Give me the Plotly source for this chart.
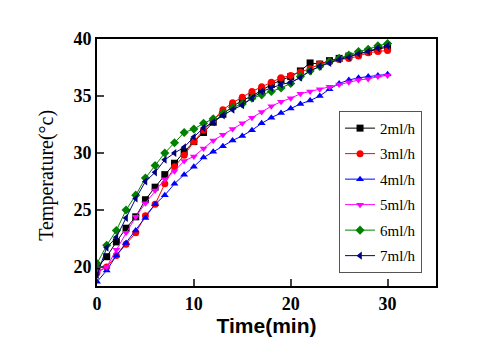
import plotly.graph_objects as go

time_min = list(range(0, 31))

t_2ml = [19.9, 20.9, 22.2, 23.4, 24.4, 25.9, 27.0, 28.1, 29.1, 30.1, 31.0, 31.8, 32.7, 33.4, 34.1, 34.6,
         35.0, 35.5, 36.0, 36.4, 36.7, 37.2, 37.9, 37.8, 38.1, 38.3, 38.5, 38.7, 38.9, 39.1, 39.3]
t_3ml = [19.5, 20.0, 21.0, 22.0, 23.0, 24.5, 25.5, 27.3, 28.8, 29.8, 31.0, 32.0, 32.9, 33.8, 34.4, 34.9,
         35.4, 35.8, 36.2, 36.6, 36.8, 37.1, 37.4, 37.8, 38.0, 38.2, 38.3, 38.5, 38.8, 38.9, 39.0]
t_4ml = [18.7, 19.7, 21.0, 22.1, 23.2, 24.3, 25.5, 26.3, 27.3, 28.1, 28.8, 29.6, 30.1, 30.6, 31.1, 31.5,
         32.0, 32.6, 33.1, 33.5, 33.9, 34.3, 34.6, 35.0, 35.6, 36.1, 36.4, 36.6, 36.7, 36.8, 36.9]
t_5ml = [19.6, 20.0, 21.5, 23.0, 24.4, 25.6, 26.7, 27.7, 28.4, 29.3, 29.7, 30.4, 31.1, 31.6, 32.1, 32.6,
         33.1, 33.6, 34.1, 34.5, 34.8, 35.2, 35.4, 35.6, 35.8, 36.0, 36.2, 36.4, 36.5, 36.7, 36.8]
t_6ml = [20.3, 21.9, 23.2, 25.0, 26.3, 27.8, 28.9, 30.0, 30.9, 31.8, 32.1, 32.6, 33.0, 33.5, 34.0, 34.3,
         34.8, 35.1, 35.4, 35.7, 36.1, 36.7, 37.2, 37.6, 38.0, 38.3, 38.6, 38.9, 39.1, 39.4, 39.6]
t_7ml = [19.3, 21.7, 22.6, 24.3, 26.0, 27.5, 28.3, 29.4, 30.0, 30.5, 31.4, 32.2, 32.7, 33.3, 33.8, 34.2,
         34.8, 35.4, 35.7, 36.0, 36.2, 36.6, 37.2, 37.6, 37.9, 38.2, 38.4, 38.7, 38.9, 39.2, 39.4]

series_names = ["2ml/h", "3ml/h", "4ml/h", "5ml/h", "6ml/h", "7ml/h"]
series_values = [t_2ml, t_3ml, t_4ml, t_5ml, t_6ml, t_7ml]
colors = ["#000000", "#FF0000", "#0000FF", "#FF00FF", "#008000", "#000080"]
symbols = ["square", "circle", "triangle-up", "triangle-down", "diamond", "triangle-left"]

x_ticks = [0, 10, 20, 30]
y_ticks = [20, 25, 30, 35, 40]

fig = go.Figure()
for name, vals, c, s in zip(series_names, series_values, colors, symbols):
    fig.add_trace(go.Scatter(
        x=time_min, y=vals, name=name, mode="lines+markers",
        line=dict(color=c, width=1),
        marker=dict(symbol=s, size=7, color=c),
        legendgroup=name,
    ))

fig.update_layout(
    width=480, height=360,
    margin=dict(l=89, r=52, t=31, b=82),
    paper_bgcolor="white", plot_bgcolor="white",
    showlegend=True,
    legend=dict(
        x=0.714, y=0.709, xanchor="left", yanchor="top",
        bordercolor="#555555", borderwidth=1, bgcolor="white",
        font=dict(family="Liberation Serif", size=15, color="black"),
        tracegroupgap=3,
    ),
    annotations=[dict(
        text="Temperature(°c)", xref="paper", yref="paper", x=-0.1475, y=0.45,
        xanchor="center", yanchor="middle", textangle=-90, showarrow=False,
        font=dict(family="Liberation Serif", size=20, color="black"),
    )],
)
fig.update_xaxes(
    range=[0, 35], tickvals=x_ticks, ticks="inside", ticklen=7, tickwidth=1.5,
    showline=True, linecolor="black", linewidth=2, mirror=True, showgrid=False, zeroline=False,
    tickfont=dict(family="Liberation Serif", size=18, color="black", weight="bold"),
    title=dict(text="Time(min)", font=dict(family="Liberation Sans", size=21, color="black", weight="bold"), standoff=4),
)
fig.update_yaxes(
    range=[18.33, 40], tickvals=y_ticks, ticks="inside", ticklen=7, tickwidth=1.5,
    showline=True, linecolor="black", linewidth=2, mirror=True, showgrid=False, zeroline=False,
    tickfont=dict(family="Liberation Serif", size=18, color="black", weight="bold"),
)

fig.write_html("out.html")
